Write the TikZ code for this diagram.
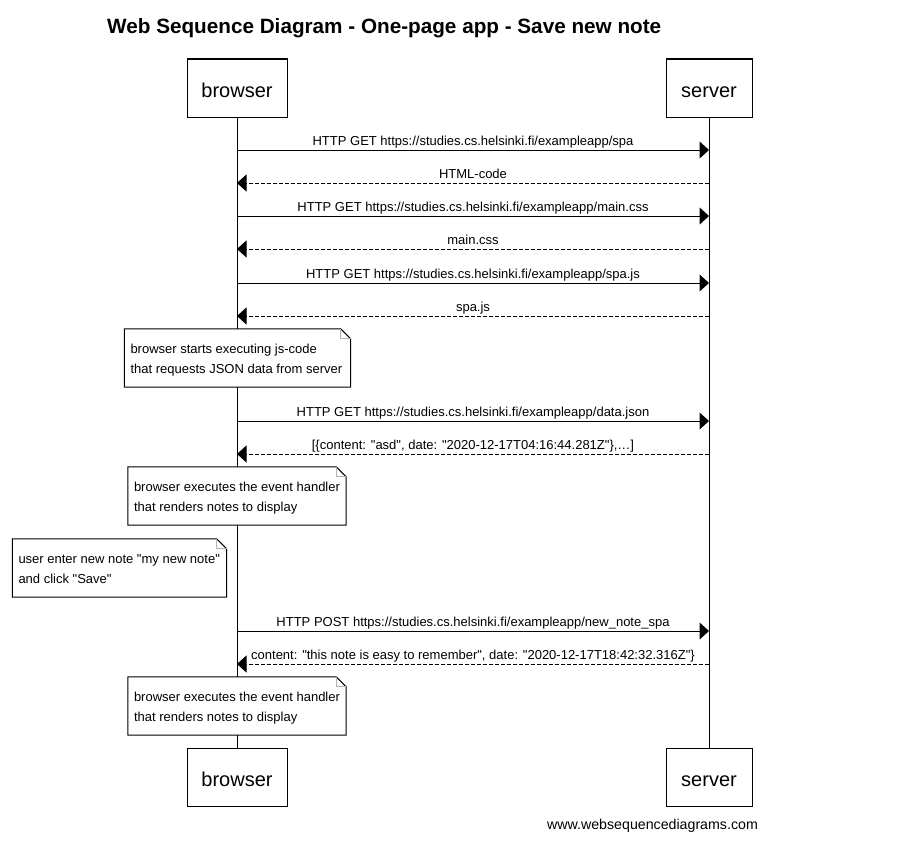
\documentclass[tikz,border=0pt]{standalone}
\usepackage{fontspec}
\setmainfont{Liberation Sans}[Ligatures=TeXOff]
\usetikzlibrary{arrows.meta,calc}
\begin{document}
\begin{tikzpicture}[x=1pt,y=-1pt,
  actor/.style={draw, line width=1pt, fill=white, minimum height=58pt, inner sep=0pt,
    font=\fontsize{20}{24}\selectfont, text height=18.4pt, text depth=0pt},
  life/.style={line width=1pt},
  msg/.style={line width=1pt, -{Triangle[length=9.5pt,width=17pt]}},
  ret/.style={msg, dash pattern=on 4pt off 2pt},
  lbl/.style={font=\fontsize{13}{15}\selectfont, anchor=base, inner sep=0pt, yshift=5pt},
  notebg/.style={fill=white, inner sep=0pt, minimum height=58pt},
  noteline/.style={line width=1pt},
  notefold/.style={line width=1pt, draw=gray!60},
  notetext/.style={anchor=base west, inner sep=0pt, font=\fontsize{13}{19.5}\selectfont},
]
\useasboundingbox (0,0) rectangle (901,851);
\fill[white] (0,0) rectangle (901,851);

\node[anchor=base west, inner sep=0pt, font=\bfseries\fontsize{20.7}{24}\selectfont] (title) at (107,33.3)
  {Web Sequence Diagram - One-page app - Save new note};

\node[actor, minimum width=100pt] (bt) at (237,88) {browser};
\node[actor, minimum width=86pt] (st) at (709,88) {server};
\node[actor, minimum width=100pt] (bb) at (237,777) {browser};
\node[actor, minimum width=86pt] (sb) at (709,777) {server};
\draw[life] (bt) -- (bb);
\draw[life] (st) -- (sb);

\foreach \n/\yy in {1/150,2/183,3/216,4/249,5/283,6/316,7/421,8/454,9/631,10/664}{
  \coordinate (b\n) at (237,\yy);
  \coordinate (s\n) at (709,\yy);
}

\draw[msg] (b1) -- (s1) node[lbl, midway] {HTTP GET https://studies.cs.helsinki.fi/exampleapp/spa};
\draw[ret] (s2) -- (b2) node[lbl, midway] {HTML-code};
\draw[msg] (b3) -- (s3) node[lbl, midway] {HTTP GET https://studies.cs.helsinki.fi/exampleapp/main.css};
\draw[ret] (s4) -- (b4) node[lbl, midway] {main.css};
\draw[msg] (b5) -- (s5) node[lbl, midway] {HTTP GET https://studies.cs.helsinki.fi/exampleapp/spa.js};
\draw[ret] (s6) -- (b6) node[lbl, midway] {spa.js};
\draw[msg] (b7) -- (s7) node[lbl, midway] {HTTP GET https://studies.cs.helsinki.fi/exampleapp/data.json};
\draw[ret] (s8) -- (b8) node[lbl, midway] {[\{content: "asd", date: "2020-12-17T04:16:44.281Z"\},…]};
\draw[msg] (b9) -- (s9) node[lbl, midway] {HTTP POST https://studies.cs.helsinki.fi/exampleapp/new\_note\_spa};
\draw[ret] (s10) -- (b10) node[lbl, midway] {content: "this note is easy to remember", date: "2020-12-17T18:42:32.316Z"\}};

% notes
\foreach \nm/\cx/\cy/\w in {n1/237.5/358/226, n2/237/496/218, n3/119.5/568/214, n4/237/706/218}{
  \node[notebg, minimum width=\w pt] (\nm) at (\cx,\cy) {};
  \draw[noteline] (\nm.north west) -- ([xshift=-10pt]\nm.north east) -- ([yshift=-10pt]\nm.north east)
     -- (\nm.south east) -- (\nm.south west) -- cycle;
  \draw[notefold] ([xshift=-10pt]\nm.north east) -- ([xshift=-10pt,yshift=-10pt]\nm.north east)
     -- ([yshift=-10pt]\nm.north east);
}
\node[notetext] (t1) at ([xshift=6pt,yshift=-25pt]n1.north west)
  {\vtop{\hbox{browser starts executing js-code}\hbox{that requests JSON data from server}}};
\node[notetext] (t2) at ([xshift=6pt,yshift=-25pt]n2.north west)
  {\vtop{\hbox{browser executes the event handler}\hbox{that renders notes to display}}};
\node[notetext] (t3) at ([xshift=6pt,yshift=-25pt]n3.north west)
  {\vtop{\hbox{user enter new note "my new note"}\hbox{and click "Save"}}};
\node[notetext] (t4) at ([xshift=6pt,yshift=-25pt]n4.north west)
  {\vtop{\hbox{browser executes the event handler}\hbox{that renders notes to display}}};

\node[anchor=base, inner sep=0pt, font=\fontsize{14.2}{17}\selectfont] (foot) at (652.5,829)
  {www.websequencediagrams.com};
\end{tikzpicture}
\end{document}
